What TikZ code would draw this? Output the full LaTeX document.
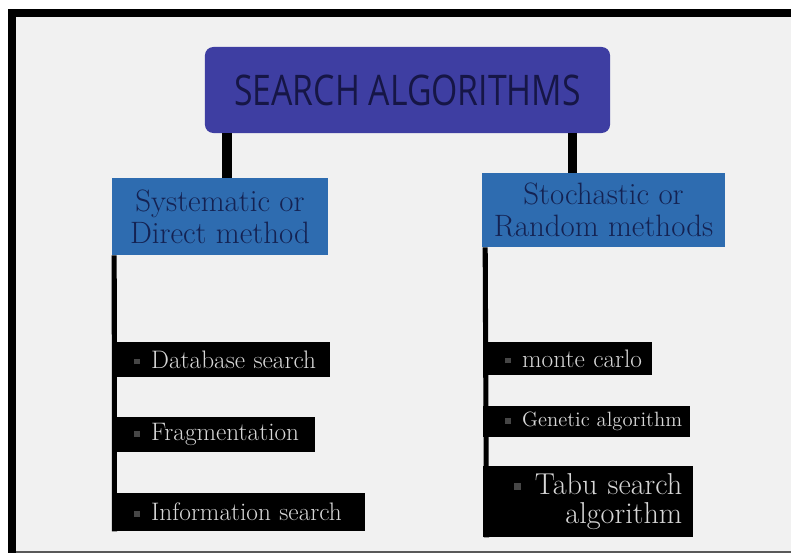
\documentclass[tikz,border=0pt]{standalone}
\usepackage{fontspec}
\newfontfamily\titlefont[FakeStretch=0.8]{Open Sans}
\definecolor{pagebg}{RGB}{241,241,241}
\definecolor{headblue}{RGB}{62,62,162}
\definecolor{headtext}{RGB}{22,22,70}
\definecolor{subblue}{RGB}{46,108,176}
\definecolor{subtext}{RGB}{20,34,82}
\definecolor{itemtext}{RGB}{215,215,215}
\definecolor{bulletgray}{RGB}{70,70,70}
\newcommand{\bul}{\hspace*{0.55cm}\textcolor{bulletgray}{\rule[0.35ex]{4pt}{4pt}}\hspace{8pt}}
\begin{document}
\begin{tikzpicture}[x=0.025cm, y=-0.025cm]
  \tikzstyle{head}=[fill=headblue,rounded corners=6pt,minimum width=10.125cm,minimum height=2.15cm,text=headtext,font=\titlefont\fontsize{30}{36}\selectfont]
  \tikzstyle{sub}=[fill=subblue,align=center,text=subtext,inner sep=0pt,font=\fontsize{22}{23}\selectfont]
  \tikzstyle{item}=[fill=black,anchor=west,align=left,inner xsep=0pt,inner ysep=0pt,text=itemtext,font=\fontsize{18}{20}\selectfont]
  \tikzstyle{bar}=[line width=7.1pt]
  \tikzstyle{stem}=[line width=3.6pt]
  \useasboundingbox (0,0) rectangle (791,553);
  % page and frame
  \fill[white] (0,0) rectangle (791,553);
  \fill[pagebg] (16,17) rectangle (791,553);
  \fill[black] (8,9) rectangle (791,17);
  \fill[black] (8,9) rectangle (16,553);
  \fill[gray!70!black] (16,551) rectangle (791,553);
  % top and the two families
  \node[head] (title) at (407.5,90) {SEARCH ALGORITHMS};
  \node[sub,minimum width=5.4cm,minimum height=1.925cm] (sys) at (220,216.5) {Systematic or\\Direct method};
  \node[sub,minimum width=6.075cm,minimum height=1.85cm] (sto) at (603.5,210) {Stochastic or\\Random methods};
  \draw[bar] ([xshift=0.175cm]sys.north) -- ([xshift=0.175cm]sys.north |- title.south);
  \draw[bar] ([xshift=-0.775cm]sto.north) -- ([xshift=-0.775cm]sto.north |- title.south);
  % systematic methods
  \node[item,text width=5.45cm,minimum height=0.875cm] (db) at (112,359.5) {\bul Database search};
  \node[item,text width=5.075cm,minimum height=0.875cm] (frag) at (112,434.5) {\bul Fragmentation};
  \node[item,text width=6.325cm,minimum height=0.95cm] (info) at (112,512) {\bul Information search};
  \draw[stem] ([xshift=0.0625cm]sys.south west) -- ([xshift=0.0625cm]info.south west);
  % stochastic methods
  \node[item,text width=4.225cm,minimum height=0.825cm] (mc) at (483,358.5) {\bul monte carlo};
  \node[item,text width=5.175cm,minimum height=0.775cm,font=\fontsize{14.7}{16}\selectfont] (ga) at (483,421.5) {\bul Genetic algorithm};
  \node[item,text width=4.7cm,inner xsep=0.275cm,minimum height=1.775cm,align=right,font=\fontsize{21.5}{21}\selectfont] (tabu) at (483,501.5) {\textcolor{bulletgray}{\rule[0.35ex]{5pt}{5pt}}\hspace{10pt}Tabu search\hspace*{7pt}\\algorithm};
  \draw[stem] ([xshift=0.0875cm]sto.south west) -- ([xshift=0.0875cm]tabu.south west);
\end{tikzpicture}
\end{document}
